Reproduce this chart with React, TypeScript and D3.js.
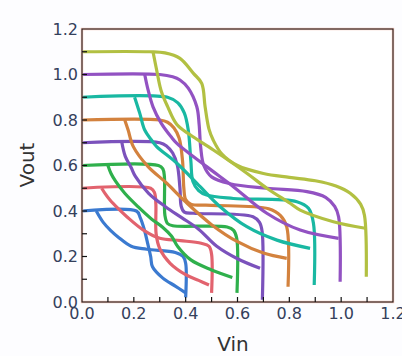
import React from "react";
import * as d3 from "d3";

type P = [number, number];

// Supply voltages and colours
const supplies = [0.4, 0.5, 0.6, 0.7, 0.8, 0.9, 1.0, 1.1];
const colors = ["#3b7ad0", "#e2636e", "#2fb04c", "#7b52bc", "#d3823e", "#19b8a2", "#9252c2", "#b2c042"];

// Late-branch curves (flat top, steep switch)
const a04: P[] = [[0,0.4],[0.21,0.4],[0.225,0.37],[0.24,0.32],[0.255,0.25],[0.265,0.2],[0.272,0.155],[0.312,0.105],[0.36,0.07],[0.4,0.04]];
const a05: P[] = [[0,0.5],[0.265,0.5],[0.28,0.48],[0.285,0.43],[0.286,0.3],[0.3,0.235],[0.34,0.17],[0.4,0.12],[0.45,0.095],[0.49,0.075]];
const a06: P[] = [[0,0.6],[0.295,0.6],[0.312,0.585],[0.318,0.55],[0.32,0.38],[0.33,0.345],[0.35,0.335],[0.56,0.33],[0.585,0.315],[0.597,0.28],[0.598,0.04]];
const a07: P[] = [[0,0.7],[0.3,0.7],[0.327,0.685],[0.35,0.655],[0.368,0.6],[0.378,0.5],[0.383,0.42],[0.395,0.395],[0.43,0.39],[0.66,0.375],[0.685,0.35],[0.695,0.31],[0.696,0.01]];
const a08: P[] = [[0,0.8],[0.3,0.8],[0.33,0.79],[0.355,0.765],[0.375,0.72],[0.388,0.62],[0.393,0.5],[0.4,0.45],[0.42,0.43],[0.5,0.425],[0.72,0.41],[0.766,0.38],[0.79,0.33],[0.795,0.067]];
const a09: P[] = [[0,0.9],[0.33,0.9],[0.37,0.875],[0.395,0.83],[0.41,0.756],[0.42,0.62],[0.428,0.53],[0.45,0.49],[0.481,0.47],[0.584,0.455],[0.829,0.441],[0.874,0.412],[0.893,0.346],[0.896,0.075]];
const a10: P[] = [[0,1.0],[0.3,1.0],[0.35,0.99],[0.378,0.976],[0.41,0.94],[0.443,0.858],[0.452,0.78],[0.458,0.68],[0.47,0.6],[0.5,0.55],[0.571,0.52],[0.713,0.5],[0.868,0.485],[0.94,0.46],[0.975,0.42],[0.99,0.375],[0.996,0.089]];
const a11: P[] = [[0,1.1],[0.26,1.1],[0.32,1.095],[0.378,1.071],[0.43,1.005],[0.462,0.961],[0.475,0.858],[0.49,0.76],[0.507,0.71],[0.54,0.65],[0.6,0.6],[0.7,0.565],[0.8,0.548],[0.9,0.533],[0.98,0.51],[1.035,0.478],[1.075,0.43],[1.09,0.38],[1.097,0.111]];

// Early-branch curves
const b04: P[] = [[0.055,0.4],[0.082,0.35],[0.11,0.315],[0.14,0.285],[0.19,0.245],[0.25,0.232],[0.36,0.218],[0.39,0.2],[0.4,0.17],[0.4,0.02]];
const b05: P[] = [[0.076,0.5],[0.09,0.475],[0.108,0.448],[0.14,0.41],[0.173,0.375],[0.237,0.316],[0.3,0.28],[0.38,0.27],[0.46,0.258],[0.49,0.245],[0.5,0.21],[0.5,0.04]];
const b06: P[] = [[0.1,0.6],[0.112,0.565],[0.13,0.53],[0.165,0.478],[0.216,0.419],[0.268,0.365],[0.31,0.33],[0.345,0.29],[0.37,0.243],[0.42,0.185],[0.5,0.141],[0.58,0.108]];
const b07: P[] = [[0.154,0.7],[0.167,0.64],[0.19,0.59],[0.206,0.552],[0.257,0.478],[0.322,0.419],[0.386,0.37],[0.45,0.32],[0.52,0.245],[0.6,0.19],[0.687,0.148]];
const b08: P[] = [[0.165,0.8],[0.178,0.756],[0.198,0.683],[0.255,0.595],[0.327,0.522],[0.4,0.44],[0.5,0.34],[0.6,0.265],[0.7,0.215],[0.79,0.192]];
const b09: P[] = [[0.203,0.9],[0.223,0.829],[0.242,0.756],[0.268,0.712],[0.288,0.683],[0.366,0.61],[0.456,0.507],[0.533,0.419],[0.636,0.331],[0.752,0.272],[0.88,0.236]];
const b10: P[] = [[0.242,1.0],[0.255,0.932],[0.274,0.858],[0.306,0.785],[0.343,0.727],[0.366,0.697],[0.481,0.595],[0.584,0.507],[0.713,0.39],[0.842,0.316],[0.99,0.28]];
const b11: P[] = [[0.274,1.1],[0.288,1.02],[0.305,0.93],[0.33,0.86],[0.366,0.78],[0.417,0.735],[0.507,0.668],[0.636,0.566],[0.713,0.5],[0.803,0.434],[0.842,0.404],[0.97,0.353],[1.093,0.324]];

const lateCurves = [a04, a05, a06, a07, a08, a09, a10, a11];
const earlyCurves = [b04, b05, b06, b07, b08, b09, b10, b11];

const majorTicks = [0, 0.2, 0.4, 0.6, 0.8, 1.0, 1.2];
const minorTicks = [0.1, 0.3, 0.5, 0.7, 0.9, 1.1];

const W = 402, H = 356;
const L = 82, R = 393, T = 29, B = 302;

export default function App() {
  const x = d3.scaleLinear().domain([0, 1.2]).range([L, R]);
  const y = d3.scaleLinear().domain([0, 1.2]).range([B, T]);
  const line = d3.line<P>().x(d => x(d[0])).y(d => y(d[1])).curve(d3.curveCatmullRom.alpha(0.5));
  const fmt = d3.format(".1f");
  const ticks = [...majorTicks, ...minorTicks].filter(t => t > 0 && t < 1.2);
  const tickColor = "#34405c";
  return (
    <svg width={W} height={H} style={{ position: "absolute", left: 0, top: 0, background: "#fff" }}
      fontFamily="'DejaVu Sans', Verdana, sans-serif">
      <rect x={0} y={0} width={W} height={H} fill="#fdfdff" />
      <rect x={L} y={T} width={R - L} height={B - T} fill="#fff" />
      {/* curves */}
      {supplies.map((s, i) => (
        <g key={s} stroke={colors[i]} strokeWidth={3.2} fill="none" strokeLinejoin="round" strokeLinecap="butt">
          <path d={line(lateCurves[i]) || ""} />
          <path d={line(earlyCurves[i]) || ""} />
        </g>
      ))}
      {/* frame */}
      <rect x={L} y={T} width={R - L} height={B - T} fill="none" stroke="#f5c2b6" strokeWidth={2.4} />
      <rect x={L} y={T} width={R - L} height={B - T} fill="none" stroke="#111" strokeWidth={1} />
      {/* ticks */}
      {ticks.map(t => (
        <g key={"t" + t} stroke="#111" strokeWidth={1.2}>
          <line x1={x(t)} x2={x(t)} y1={B} y2={B - 5} />
          <line x1={L} x2={L + 5} y1={y(t)} y2={y(t)} />
        </g>
      ))}
      {/* tick labels */}
      {majorTicks.map(t => (
        <text key={"xl" + t} x={x(t)} y={319} textAnchor="middle" fontSize={16} fill={tickColor}>{fmt(t)}</text>
      ))}
      {majorTicks.map(t => (
        <text key={"yl" + t} x={78} y={y(t) + 5.5} textAnchor="end" fontSize={16} fill={tickColor}>{fmt(t)}</text>
      ))}
      {/* axis titles */}
      <text x={233} y={351} textAnchor="middle" fontSize={20} fill="#333">Vin</text>
      <text transform="translate(34,165) rotate(-90)" textAnchor="middle" fontSize={20} fill="#333">Vout</text>
    </svg>
  );
}
